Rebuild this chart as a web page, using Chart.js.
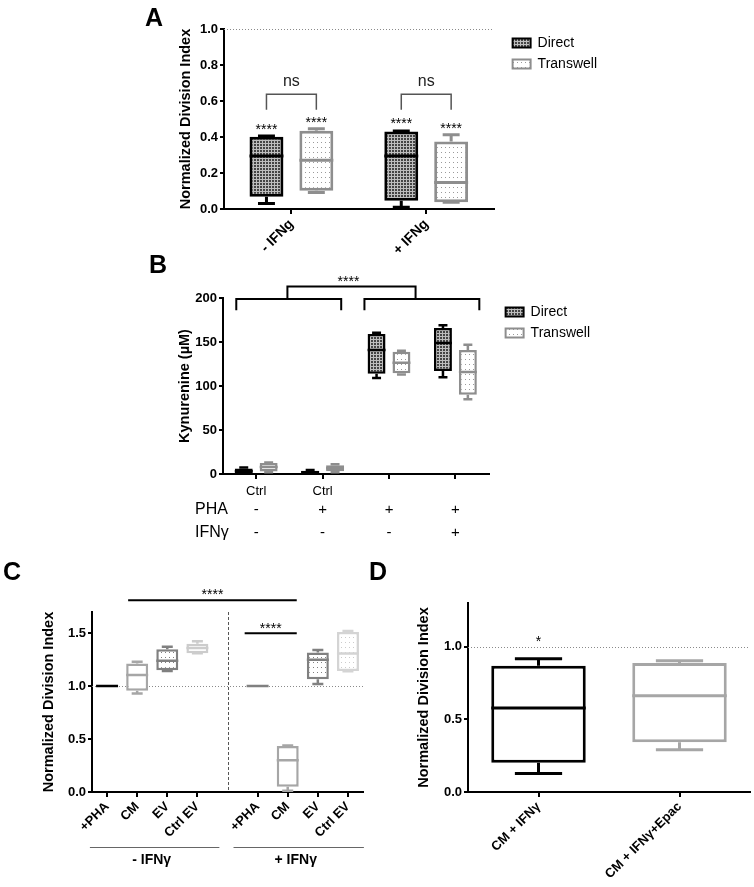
<!DOCTYPE html>
<html>
<head>
<meta charset="utf-8">
<script src="https://cdn.jsdelivr.net/npm/chart.js@4.4.1/dist/chart.umd.min.js"></script>
<style>
  body { margin: 0; background: #fff; }
  #fig { position: relative; width: 754px; height: 887px; overflow: hidden; font-family: "Liberation Sans", Arial, sans-serif; }
  #fig canvas { position: absolute; }
  .tag { position: absolute; font-weight: bold; font-size: 25px; line-height: 25px; }
</style>
</head>
<body>
<div id="fig">
  <canvas id="chartA" width="470" height="265" style="left:140px;top:0px"></canvas>
  <canvas id="chartB" width="464" height="300" style="left:140px;top:262px"></canvas>
  <canvas id="chartC" width="380" height="312" style="left:0px;top:575px"></canvas>
  <canvas id="chartD" width="374" height="312" style="left:380px;top:575px"></canvas>
  <div class="tag" style="left:145px;top:5px">A</div>
  <div class="tag" style="left:149px;top:252px">B</div>
  <div class="tag" style="left:3px;top:559px">C</div>
  <div class="tag" style="left:369px;top:559px">D</div>
</div>
<script>
// panel A - division index, direct vs transwell
const groupsA = ["- IFNg", "+ IFNg"];
const directMinA = [0.03, 0.01];
const directQ1A = [0.068, 0.046];
const directMedA = [0.295, 0.295];
const directQ3A = [0.402, 0.430];
const directMaxA = [0.406, 0.434];
const transMinA = [0.091, 0.037];
const transQ1A = [0.102, 0.037];
const transMedA = [0.271, 0.147];
const transQ3A = [0.435, 0.375];
const transMaxA = [0.446, 0.412];
const directStarA = [0.46, 0.495];
const transStarA = [0.50, 0.467];
const nsTopA = 0.638, nsLegA = 0.551, nsTextA = 0.71;

// panel B - kynurenine
const condB = ["Ctrl", "Ctrl", "", ""];
const phaRowB = ["-", "+", "+", "+"];
const ifnRowB = ["-", "-", "-", "+"];
const directMinB = [0.5, 0.5, 109, 110];
const directQ1B = [1, 1, 114, 117];
const directMedB = [3, 2, 141, 149];
const directQ3B = [6.3, 3.6, 159, 166];
const directMaxB = [7.5, 4.5, 160.5, 169];
const transMinB = [2, 2, 113, 85];
const transQ1B = [2.7, 3, 114.4, 90];
const transMedB = [8, 6.4, 126.5, 116];
const transQ3B = [12.4, 10, 139, 141];
const transMaxB = [13, 11, 140, 147];
// brackets: [from, to] in category units, levels in uM
const lowBracketsB = [[-0.30, 1.28], [1.63, 3.36]];
const topBracketB = [0.47, 2.40];
const lowLevelB = 199, lowLegB = 186, topLevelB = 213, starLevelB = 223;

// panel C
const labelsC = ["+PHA", "CM", "EV", "Ctrl EV", "", "+PHA", "CM", "EV", "Ctrl EV"];
const minC = [1, 0.931, 1.142, 1.31, null, 1, 0.012, 1.019, 1.14];
const q1C = [1, 0.956, 1.151, 1.31, null, 1, 0.05, 1.066, 1.142];
const medC = [1, 1.104, 1.239, 1.36, null, 1, 0.30, 1.25, 1.308];
const q3C = [1, 1.214, 1.349, 1.40, null, 1, 0.434, 1.318, 1.512];
const maxC = [1, 1.229, 1.371, 1.424, null, 1, 0.44, 1.34, 1.52];
const sigLinesC = [[0.7, 6.3, 1.81, 1.90], [4.57, 6.3, 1.50, 1.575]];
const groupSpansC = [[-0.57, 3.73, "- IFNγ"], [4.2, 8.53, "+ IFNγ"]];

// panel D
const labelsD = ["CM + IFNγ", "CM + IFNγ+Epac"];
const minD = [0.128, 0.29];
const q1D = [0.202, 0.342];
const medD = [0.577, 0.662];
const q3D = [0.869, 0.887];
const maxD = [0.917, 0.903];
const starD = 1.06;

const FONT = '"Liberation Sans", Arial, sans-serif';
Chart.defaults.font.family = FONT;
Chart.defaults.color = "#000";
Chart.defaults.animation = false;

// fine grey grid, like the "Direct" hatch
function checkPattern() {
  const c = document.createElement("canvas");
  c.width = 3; c.height = 3;
  const g = c.getContext("2d");
  g.fillStyle = "#bdbdbd";
  g.fillRect(0, 0, 3, 3);
  g.fillStyle = "#444";
  g.fillRect(0, 0, 2, 2);
  return g.createPattern(c, "repeat");
}

function dotPattern(dot) {
  const c = document.createElement("canvas");
  c.width = 4; c.height = 5;
  const g = c.getContext("2d");
  g.fillStyle = "#fff";
  g.fillRect(0, 0, 4, 5);
  g.fillStyle = dot;
  g.fillRect(1, 2, 1, 1);
  return g.createPattern(c, "repeat");
}

const toPairs = (lo, hi) => lo.map((v, i) => v === null ? null : [v, hi[i]]);

// whiskers + median on top of the floating bars
const boxPlot = {
  id: "boxPlot",
  afterDatasetsDraw(chart) {
    const {ctx, scales: {y}} = chart;
    chart.data.datasets.forEach((ds, di) => {
      if (!ds.medians) return;
      chart.getDatasetMeta(di).data.forEach((bar, i) => {
        if (ds.medians[i] === null) return;
        const {x, width} = bar.getProps(["x", "width"], true);
        const col = Array.isArray(ds.borderColor) ? ds.borderColor[i] : ds.borderColor;
        const cap = width * 0.5;
        const yLo = y.getPixelForValue(ds.mins[i]);
        const yHi = y.getPixelForValue(ds.maxs[i]);
        const yQ1 = y.getPixelForValue(ds.data[i][0]);
        const yQ3 = y.getPixelForValue(ds.data[i][1]);
        const yMed = y.getPixelForValue(ds.medians[i]);
        ctx.save();
        ctx.strokeStyle = col;
        ctx.lineWidth = ds.borderWidth;
        ctx.beginPath();
        ctx.moveTo(x, yQ1); ctx.lineTo(x, yLo);
        ctx.moveTo(x - cap / 2, yLo); ctx.lineTo(x + cap / 2, yLo);
        ctx.moveTo(x, yQ3); ctx.lineTo(x, yHi);
        ctx.moveTo(x - cap / 2, yHi); ctx.lineTo(x + cap / 2, yHi);
        ctx.moveTo(x - width / 2, yMed); ctx.lineTo(x + width / 2, yMed);
        ctx.stroke();
        ctx.restore();
      });
    });
  }
};
Chart.register(boxPlot);

function refLine(chart, v) {
  const {ctx, chartArea: a, scales: {y}} = chart;
  const py = Math.round(y.getPixelForValue(v)) + 0.5;
  ctx.save();
  ctx.strokeStyle = "#8a8a8a";
  ctx.lineWidth = 1;
  ctx.setLineDash([1, 2]);
  ctx.beginPath();
  ctx.moveTo(a.left, py); ctx.lineTo(a.right, py);
  ctx.stroke();
  ctx.restore();
}

function stars(ctx, text, x, y) {
  ctx.save();
  ctx.font = "14px " + FONT;
  ctx.fillStyle = "#000";
  ctx.textAlign = "center";
  ctx.textBaseline = "alphabetic";
  ctx.fillText(text, x, y + 8);
  ctx.restore();
}

function yAxis(min, max, step, title, width, digits) {
  return {
    min: min, max: max,
    border: {display: true, color: "#000", width: 2},
    grid: {display: true, drawOnChartArea: false, drawTicks: true, tickLength: 4, color: "#000", lineWidth: 2},
    ticks: {stepSize: step, includeBounds: false, padding: 2, color: "#000",
      font: {size: 13, weight: "bold"}, callback: v => v.toFixed(digits)},
    title: {display: true, text: title, color: "#000", padding: 0, font: {size: 14.5, weight: "bold"}},
    afterFit(s) { s.width = width; }
  };
}

function xAxis(height, rot, font, tickColor, pad) {
  return {
    offset: true,
    border: {display: true, color: "#000", width: 2},
    grid: {display: true, drawOnChartArea: false, offset: false, tickLength: 5,
      color: tickColor || "#000", tickColor: tickColor || "#000", lineWidth: 2},
    ticks: {autoSkip: false, minRotation: rot, maxRotation: rot, padding: pad || 2, color: "#000", font: font},
    afterFit(s) { s.height = height; }
  };
}

// empty axis used only as a spacer between plot and legend
const spacer = (w) => ({
  type: "linear", position: "right", display: true,
  grid: {display: false}, border: {display: false}, ticks: {display: false},
  afterFit(s) { s.width = w; }
});

const legendOpts = {
  display: true, position: "right", align: "start", maxWidth: 130,
  labels: {
    boxWidth: 18, boxHeight: 9, padding: 7, color: "#000", font: {size: 14},
    generateLabels(chart) {
      return Chart.defaults.plugins.legend.labels.generateLabels(chart)
        .map(l => Object.assign(l, {lineWidth: 2}));
    }
  }
};

const directFill = checkPattern();
const transFill = dotPattern("#9a9a9a");

// ---- A ----
new Chart(document.getElementById("chartA"), {
  type: "bar",
  data: {
    labels: groupsA,
    datasets: [
      {label: "Direct", data: toPairs(directQ1A, directQ3A), mins: directMinA, medians: directMedA, maxs: directMaxA,
        backgroundColor: directFill, borderColor: "#000", borderWidth: 3, borderSkipped: false,
        categoryPercentage: 0.74, barPercentage: 0.68},
      {label: "Transwell", data: toPairs(transQ1A, transQ3A), mins: transMinA, medians: transMedA, maxs: transMaxA,
        backgroundColor: transFill, borderColor: "#8e8e8e", borderWidth: 3, borderSkipped: false,
        categoryPercentage: 0.74, barPercentage: 0.68}
    ]
  },
  options: {
    responsive: false,
    layout: {padding: {top: 29, left: 37, right: 3, bottom: 6}},
    plugins: {legend: legendOpts, tooltip: {enabled: false}},
    scales: {
      x: xAxis(50, 45, {size: 14, weight: "bold"}),
      y: yAxis(0, 1, 0.2, "Normalized Division Index", 47, 1),
      gap: spacer(12)
    }
  },
  plugins: [{
    id: "annotA",
    beforeDatasetsDraw(chart) { refLine(chart, 1.0); },
    afterDatasetsDraw(chart) {
      const {ctx, scales: {y}} = chart;
      const d = chart.getDatasetMeta(0).data;
      const t = chart.getDatasetMeta(1).data;
      groupsA.forEach((g, i) => {
        stars(ctx, "****", d[i].x, y.getPixelForValue(directStarA[i]));
        stars(ctx, "****", t[i].x, y.getPixelForValue(transStarA[i]));
        const yTop = y.getPixelForValue(nsTopA), yLeg = y.getPixelForValue(nsLegA);
        ctx.save();
        ctx.strokeStyle = "#555";
        ctx.lineWidth = 1.5;
        ctx.beginPath();
        ctx.moveTo(d[i].x, yLeg); ctx.lineTo(d[i].x, yTop);
        ctx.lineTo(t[i].x, yTop); ctx.lineTo(t[i].x, yLeg);
        ctx.stroke();
        ctx.font = "16px " + FONT;
        ctx.fillStyle = "#222";
        ctx.textAlign = "center";
        ctx.textBaseline = "middle";
        ctx.fillText("ns", (d[i].x + t[i].x) / 2, y.getPixelForValue(nsTextA));
        ctx.restore();
      });
    }
  }]
});

// ---- B ----
new Chart(document.getElementById("chartB"), {
  type: "bar",
  data: {
    labels: condB,
    datasets: [
      {label: "Direct", data: toPairs(directQ1B, directQ3B), mins: directMinB, medians: directMedB, maxs: directMaxB,
        backgroundColor: directFill, borderColor: "#000", borderWidth: 2.5, borderSkipped: false,
        categoryPercentage: 0.75, barPercentage: 0.72},
      {label: "Transwell", data: toPairs(transQ1B, transQ3B), mins: transMinB, medians: transMedB, maxs: transMaxB,
        backgroundColor: transFill, borderColor: "#8e8e8e", borderWidth: 2.5, borderSkipped: false,
        categoryPercentage: 0.75, barPercentage: 0.72}
    ]
  },
  options: {
    responsive: false,
    layout: {padding: {top: 36, left: 36, right: 4, bottom: 8}},
    plugins: {legend: legendOpts, tooltip: {enabled: false}},
    scales: {
      x: xAxis(80, 0, {size: 13}, null, 5),
      y: yAxis(0, 200, 50, "Kynurenine (µM)", 47, 0),
      gap: spacer(10)
    }
  },
  plugins: [{
    id: "annotB",
    afterDatasetsDraw(chart) {
      const {ctx, chartArea: a, scales: {x, y}} = chart;
      const px = v => x.getPixelForValue(v);
      ctx.save();
      ctx.strokeStyle = "#000";
      ctx.lineWidth = 2;
      ctx.beginPath();
      lowBracketsB.forEach(([f, t]) => {
        ctx.moveTo(px(f), y.getPixelForValue(lowLegB));
        ctx.lineTo(px(f), y.getPixelForValue(lowLevelB));
        ctx.lineTo(px(t), y.getPixelForValue(lowLevelB));
        ctx.lineTo(px(t), y.getPixelForValue(lowLegB));
      });
      ctx.moveTo(px(topBracketB[0]), y.getPixelForValue(lowLevelB));
      ctx.lineTo(px(topBracketB[0]), y.getPixelForValue(topLevelB));
      ctx.lineTo(px(topBracketB[1]), y.getPixelForValue(topLevelB));
      ctx.lineTo(px(topBracketB[1]), y.getPixelForValue(lowLevelB));
      ctx.stroke();
      ctx.restore();
      stars(ctx, "****", (px(topBracketB[0]) + px(topBracketB[1])) / 2 - 3, y.getPixelForValue(starLevelB));

      // condition rows under the axis
      ctx.save();
      ctx.fillStyle = "#000";
      ctx.textBaseline = "middle";
      ctx.font = "16px " + FONT;
      ctx.textAlign = "left";
      ctx.fillText("PHA", a.left - 28, a.bottom + 36);
      ctx.fillText("IFNγ", a.left - 28, a.bottom + 59);
      ctx.textAlign = "center";
      ctx.font = "15px " + FONT;
      phaRowB.forEach((s, i) => ctx.fillText(s, px(i), a.bottom + 36));
      ifnRowB.forEach((s, i) => ctx.fillText(s, px(i), a.bottom + 59));
      ctx.restore();
    }
  }]
});

// ---- C ----
const colorC = ["#000", "#a6a6a6", "#808080", "#cccccc", "#000", "#808080", "#a6a6a6", "#808080", "#d4d4d4"];
const fillC = ["#fff", "#fff", dotPattern("#808080"), dotPattern("#c4c4c4"), "#fff",
  "#fff", "#fff", dotPattern("#808080"), dotPattern("#cccccc")];

new Chart(document.getElementById("chartC"), {
  type: "bar",
  data: {
    labels: labelsC,
    datasets: [
      {label: "Division", data: toPairs(q1C, q3C), mins: minC, medians: medC, maxs: maxC,
        backgroundColor: fillC, borderColor: colorC, borderWidth: 2.5, borderSkipped: false,
        categoryPercentage: 1, barPercentage: 0.73}
    ]
  },
  options: {
    responsive: false,
    layout: {padding: {top: 37, left: 40, right: 17, bottom: 45}},
    plugins: {legend: {display: false}, tooltip: {enabled: false}},
    scales: {
      x: xAxis(50, 45, {size: 13, weight: "bold"}, c => c.index === 4 ? "rgba(0,0,0,0)" : "#000"),
      y: yAxis(0, 1.7, 0.5, "Normalized Division Index", 52, 1)
    }
  },
  plugins: [{
    id: "annotC",
    beforeDatasetsDraw(chart) {
      const {ctx, chartArea: a, scales: {x}} = chart;
      refLine(chart, 1.0);
      const px = Math.round(x.getPixelForValue(4)) + 0.5;
      ctx.save();
      ctx.strokeStyle = "#555";
      ctx.lineWidth = 1;
      ctx.setLineDash([3, 2]);
      ctx.beginPath();
      ctx.moveTo(px, a.top); ctx.lineTo(px, a.bottom);
      ctx.stroke();
      ctx.restore();
    },
    afterDatasetsDraw(chart) {
      const {ctx, chartArea: a, scales: {x, y}} = chart;
      sigLinesC.forEach(([f, t, lv, sv]) => {
        ctx.save();
        ctx.strokeStyle = "#000";
        ctx.lineWidth = 2;
        ctx.beginPath();
        ctx.moveTo(x.getPixelForValue(f), y.getPixelForValue(lv));
        ctx.lineTo(x.getPixelForValue(t), y.getPixelForValue(lv));
        ctx.stroke();
        ctx.restore();
        stars(ctx, "****", (x.getPixelForValue(f) + x.getPixelForValue(t)) / 2, y.getPixelForValue(sv));
      });
      groupSpansC.forEach(([f, t, txt]) => {
        const x0 = x.getPixelForValue(f), x1 = x.getPixelForValue(t);
        ctx.save();
        ctx.strokeStyle = "#666";
        ctx.lineWidth = 1;
        ctx.beginPath();
        ctx.moveTo(x0, a.bottom + 55.5); ctx.lineTo(x1, a.bottom + 55.5);
        ctx.stroke();
        ctx.font = "bold 14px " + FONT;
        ctx.fillStyle = "#000";
        ctx.textAlign = "center";
        ctx.textBaseline = "middle";
        ctx.fillText(txt, (x0 + x1) / 2 - 3, a.bottom + 68);
        ctx.restore();
      });
    }
  }]
});

// ---- D ----
new Chart(document.getElementById("chartD"), {
  type: "bar",
  data: {
    labels: labelsD,
    datasets: [
      {label: "Division", data: toPairs(q1D, q3D), mins: minD, medians: medD, maxs: maxD,
        backgroundColor: "#fff", borderColor: ["#000", "#a6a6a6"], borderWidth: 3, borderSkipped: false,
        categoryPercentage: 1, barPercentage: 0.67}
    ]
  },
  options: {
    responsive: false,
    layout: {padding: {top: 28, left: 35, right: 4, bottom: 0}},
    plugins: {legend: {display: false}, tooltip: {enabled: false}},
    scales: {
      x: xAxis(95, 45, {size: 13, weight: "bold"}),
      y: yAxis(0, 1.3, 0.5, "Normalized Division Index", 53, 1)
    }
  },
  plugins: [{
    id: "annotD",
    beforeDatasetsDraw(chart) { refLine(chart, 1.0); },
    afterDatasetsDraw(chart) {
      const {ctx, scales: {x, y}} = chart;
      stars(ctx, "*", x.getPixelForValue(0), y.getPixelForValue(starD));
    }
  }]
});
</script>
</body>
</html>
